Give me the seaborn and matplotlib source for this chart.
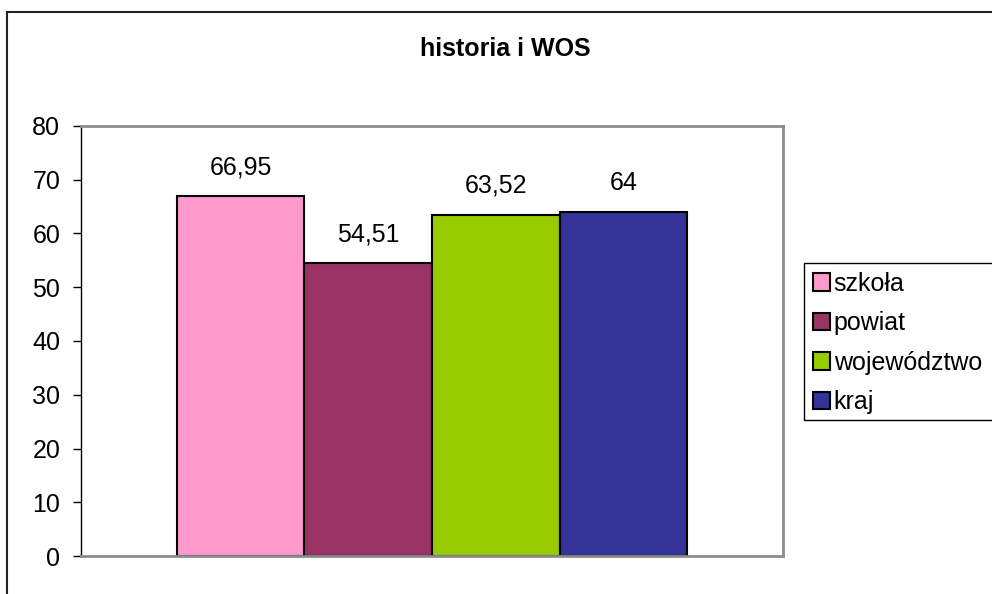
import matplotlib
matplotlib.use("Agg")
import matplotlib.pyplot as plt
from matplotlib.patches import Patch, Rectangle
import pandas as pd
import seaborn as sns

# data
series = ['szkoła', 'powiat', 'województwo', 'kraj']
values = [66.95, 54.51, 63.52, 64]
colors = ['#FF99CC', '#993366', '#99CC00', '#333399']
title = 'historia i WOS'
yticks = [0, 10, 20, 30, 40, 50, 60, 70, 80]

sns.set_style("white")
plt.rcParams['font.family'] = ['Liberation Sans', 'DejaVu Sans']
plt.rcParams['text.color'] = 'black'
plt.rcParams['axes.labelcolor'] = 'black'
plt.rcParams['xtick.color'] = 'black'
plt.rcParams['ytick.color'] = 'black'

df = pd.DataFrame({'grupa': [title] * len(series), 'seria': series, 'wynik': values})

W, H = 992, 594
fig = plt.figure(figsize=(W / 100, H / 100), dpi=100)
ax = fig.add_axes([81 / W, (H - 556) / H, 702 / W, 430 / H])

sns.barplot(
    data=df, x='grupa', y='wynik', hue='seria',
    hue_order=series, palette=dict(zip(series, colors)),
    width=0.7265, edgecolor='black', linewidth=1.5,
    saturation=1, legend=False, ax=ax
)

for cont in ax.containers:
    ax.bar_label(
        cont, labels=[f"{v:g}".replace('.', ',') for v in cont.datavalues],
        padding=12, fontsize=18, color='black'
    )

ax.set_ylim(0, 80)
ax.set_xlim(-0.5, 0.5)
ax.set_yticks(yticks)
ax.set_xticks([])
ax.set_xlabel('')
ax.set_ylabel('')
ax.tick_params(axis='y', direction='out', length=6, width=1, color='black',
               labelcolor='black', labelsize=18, pad=9, left=True)

for side in ['top', 'right', 'bottom']:
    ax.spines[side].set_color('#8c8c8c')
    ax.spines[side].set_linewidth(2)
ax.spines['left'].set_color('black')
ax.spines['left'].set_linewidth(1)

fig.text(505.5 / W, 1 - 49 / H, title, ha='center', va='center',
         fontsize=18, fontweight='bold', color='black')

handles = [Patch(facecolor=c, edgecolor='black', linewidth=1.5, label=s)
           for s, c in zip(series, colors)]
leg = fig.legend(
    handles=handles, loc='upper left',
    bbox_to_anchor=(804 / W, 1 - 263 / H), borderaxespad=0,
    fontsize=18, frameon=False,
    handlelength=0.68, handleheight=0.68, handletextpad=0.16,
    labelspacing=0.62, borderpad=0.35
)
for t in leg.get_texts():
    t.set_color('black')

# legend box runs off the right edge, as in the reference
fig.add_artist(Rectangle((804 / W, 1 - 420 / H), 0.5, 157 / H,
                         transform=fig.transFigure, fill=False,
                         edgecolor='black', linewidth=1))

fig.add_artist(Rectangle((7 / W, -0.5), 2, 1 - 12 / H + 0.5,
                         transform=fig.transFigure, fill=False,
                         edgecolor='#222222', linewidth=1.5))

fig.savefig('out.png', dpi=100)
